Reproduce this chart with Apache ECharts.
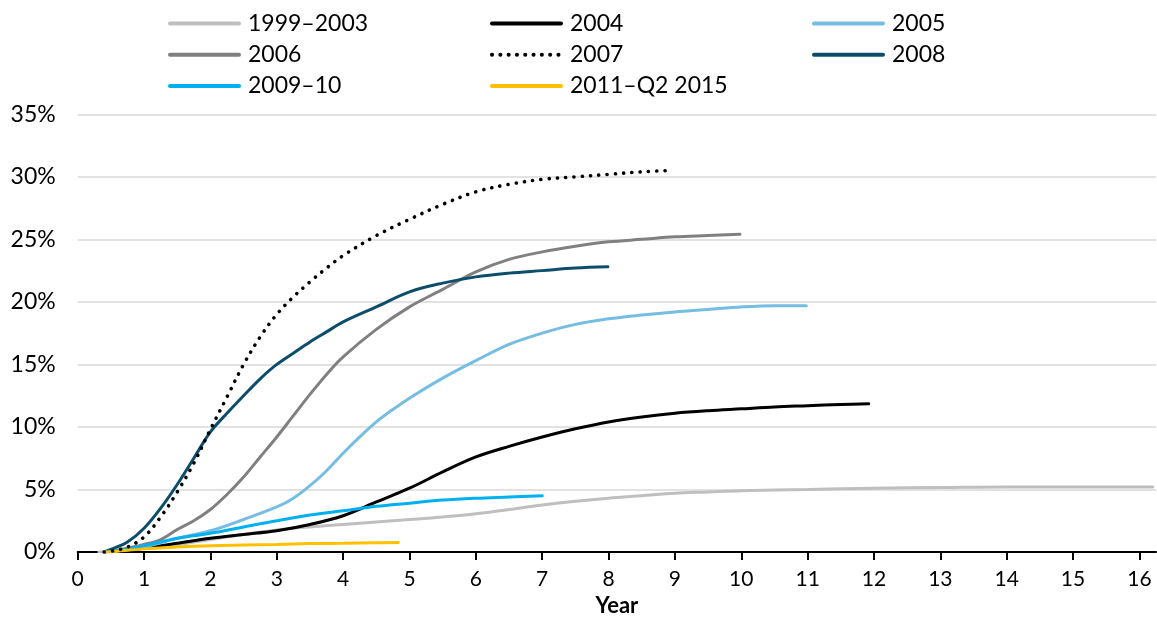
<!DOCTYPE html>
<html>
<head>
<meta charset="utf-8">
<script src="https://cdn.jsdelivr.net/npm/echarts@6/dist/echarts.min.js"></script>
<style>html,body{margin:0;padding:0;background:#fff}#c{width:1157px;height:619px}</style>
</head>
<body>
<div id="c"></div>
<script>
// Series names
const seriesNames = ['1999–2003','2004','2005','2006','2007','2008','2009–10','2011–Q2 2015'];
// x tick labels
const xTicks = [0,1,2,3,4,5,6,7,8,9,10,11,12,13,14,15,16];

// x (years) and y (%) values per series
const x1999 = [0.32,0.5,1,1.5,2,2.5,3,3.5,4,4.5,5,5.5,6,6.5,7,7.5,8,8.5,9,9.5,10,10.5,11,12,13,14,15,16.2];
const y1999 = [0,0.05,0.3,0.6,1.0,1.4,1.75,2.0,2.2,2.4,2.6,2.8,3.05,3.4,3.75,4.05,4.3,4.5,4.7,4.8,4.9,4.95,5.0,5.1,5.15,5.2,5.2,5.2];

const x2004 = [0.4,0.5,1,1.5,2,2.5,3,3.5,4,4.5,5,5.5,6,6.5,7,7.5,8,8.5,9,9.5,10,10.5,11,11.5,11.92];
const y2004 = [0,0.05,0.3,0.7,1.1,1.4,1.7,2.2,2.9,4.0,5.1,6.4,7.6,8.45,9.2,9.85,10.4,10.8,11.1,11.3,11.45,11.6,11.7,11.8,11.85];

const x2005 = [0.4,0.5,0.75,1,1.5,2,2.5,3,3.25,3.5,3.75,4,4.25,4.5,4.75,5,5.5,6,6.5,7,7.5,8,8.5,9,9.5,10,10.5,10.98];
const y2005 = [0,0.05,0.2,0.4,1.1,1.7,2.6,3.6,4.3,5.3,6.5,7.9,9.2,10.4,11.4,12.3,13.9,15.3,16.6,17.5,18.2,18.65,18.95,19.2,19.4,19.6,19.7,19.7];

const x2006 = [0.4,0.5,0.75,1,1.25,1.5,1.75,2,2.25,2.5,2.75,3,3.25,3.5,3.75,4,4.5,5,5.5,6,6.5,7,7.5,8,8.5,9,9.5,9.98];
const y2006 = [0,0.05,0.3,0.6,1.0,1.8,2.5,3.4,4.6,6.0,7.6,9.2,10.9,12.6,14.2,15.6,17.8,19.6,21.0,22.4,23.4,24.0,24.45,24.8,25.0,25.2,25.3,25.4];

const x2007 = [0.4,0.5,0.75,1,1.25,1.5,1.75,2,2.25,2.5,2.75,3,3.25,3.5,3.75,4,4.5,5,5.5,6,6.5,7,7.5,8,8.5,8.9];
const y2007 = [0,0.05,0.4,1.2,2.8,4.8,7.1,9.8,12.4,15.0,17.2,19.0,20.4,21.6,22.7,23.7,25.3,26.6,27.8,28.8,29.4,29.8,30.0,30.2,30.4,30.5];

const x2008 = [0.4,0.5,0.75,1,1.25,1.5,1.75,2,2.25,2.5,2.75,3,3.25,3.5,3.75,4,4.5,5,5.5,6,6.5,7,7.5,7.99];
const y2008 = [0,0.2,0.8,1.9,3.5,5.4,7.5,9.6,11.1,12.5,13.85,15.0,15.9,16.8,17.6,18.4,19.6,20.8,21.5,22.0,22.3,22.5,22.7,22.8];

const x2009 = [0.4,0.5,0.75,1,1.25,1.5,1.75,2,2.5,3,3.5,4,4.5,5,5.5,6,6.5,7.0];
const y2009 = [0,0.05,0.25,0.5,0.8,1.1,1.3,1.5,2.0,2.5,2.95,3.3,3.65,3.9,4.15,4.3,4.4,4.5];

const x2011 = [0.4,0.5,1,1.5,2,2.5,3,3.5,4,4.5,4.83];
const y2011 = [0,0.03,0.25,0.4,0.5,0.55,0.6,0.67,0.7,0.73,0.75];

const xs = [x1999,x2004,x2005,x2006,x2007,x2008,x2009,x2011];
const ys = [y1999,y2004,y2005,y2006,y2007,y2008,y2009,y2011];
const colors = ['#bfbfbf','#000000','#75bde2','#808080','#000000','#0c4d6b','#00b0f0','#ffc000'];

const FONT = 'Lato, "Noto Sans", sans-serif';

const series = seriesNames.map((name, i) => ({
  name: name,
  type: 'line',
  data: xs[i].map((x, j) => [x, ys[i][j]]),
  showSymbol: false,
  symbol: 'none',
  smooth: 0.35,
  z: i === 4 ? 5 : 3,
  color: colors[i],
  lineStyle: i === 4
    ? { color: colors[i], width: 3.6, type: [0.1, 8.2], cap: 'round' }
    : { color: colors[i], width: 3, cap: 'round' },
  emphasis: { disabled: true }
}));

function legendCol(left, names) {
  return {
    orient: 'vertical',
    left: left,
    top: 10,
    padding: 0,
    itemWidth: 69,
    itemHeight: 14,
    itemGap: 4.2,
    lineStyle: { width: 4 },
    itemStyle: { opacity: 0 },
    textStyle: { fontFamily: FONT, fontSize: 23, color: '#000', lineHeight: 27, padding: [0,0,0,4] },
    data: names,
    selectedMode: false
  };
}

const chart = echarts.init(document.getElementById('c'), null, { renderer: 'canvas' });
chart.setOption({
  animation: false,
  backgroundColor: '#ffffff',
  legend: [
    legendCol(168, ['1999–2003','2006','2009–10']),
    legendCol(490, ['2004','2007','2011–Q2 2015']),
    legendCol(812, ['2005','2008'])
  ],
  grid: { left: 77.7, right: 1, top: 114.3, bottom: 67, containLabel: false, outerBoundsMode: 'none' },
  xAxis: {
    type: 'value',
    min: 0,
    max: 16.25,
    name: 'Year',
    nameLocation: 'middle',
    nameGap: 41,
    nameTextStyle: { fontFamily: FONT, fontSize: 22, fontWeight: 'bold', color: '#000' },
    axisLine: { show: true, lineStyle: { color: '#000', width: 2 } },
    axisTick: { show: true, length: 8, lineStyle: { color: '#000', width: 2 }, customValues: xTicks },
    axisLabel: { fontFamily: FONT, fontSize: 21, color: '#000', margin: 17, customValues: xTicks },
    splitLine: { show: false }
  },
  yAxis: {
    type: 'value',
    min: 0,
    max: 35,
    interval: 5,
    axisLine: { show: false },
    axisTick: { show: false },
    axisLabel: { fontFamily: FONT, fontSize: 23, color: '#000', margin: 22, formatter: '{value}%' },
    splitLine: { show: true, lineStyle: { color: '#d9d9d9', width: 1.5 } }
  },
  series: series
});
</script>
</body>
</html>
